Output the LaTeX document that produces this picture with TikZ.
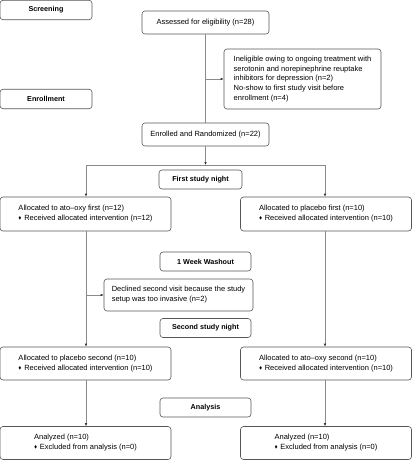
\documentclass[tikz,border=0pt]{standalone}
\usepackage{amssymb}
\usepackage{fontspec}
\setmainfont{Liberation Sans}
\usepackage{xcolor}
\usetikzlibrary{positioning}
\usetikzlibrary{arrows, arrows.meta}

\definecolor{boxline}{HTML}{555555}
\definecolor{flowline}{HTML}{8A8A8A}

\newcommand{\itemdia}{\raisebox{0.3ex}{\scalebox{0.55}{$\blacklozenge$}}\hspace{0.35em}}

\tikzset{
  box/.style={draw=boxline, line width=0.6pt, rounded corners=3pt, inner sep=0pt,
    align=left, font=\fontsize{7.5}{9.9}\selectfont},
  stagebox/.style={box, font=\fontsize{7.2}{9}\selectfont\bfseries, align=center},
  flow/.style={draw=flowline, line width=0.6pt},
  flowarrow/.style={flow, -{Latex[length=3pt,width=2.6pt,black!80]}}
}

\begin{document}
\begin{tikzpicture}[x=1pt, y=-1pt]
  \def\sidew{171}
  \def\stagew{91}
  \def\leftx{85.5}
  \def\rightx{326}
  \def\midx{205.5}

  \useasboundingbox (0,0) rectangle (412,460);

  % stage labels
  \node[stagebox, minimum width=92pt, minimum height=19.5pt] (screening) at (46,10) {Screening};
  \node[stagebox, minimum width=92pt, minimum height=19.5pt] (enrollment) at (46,99) {Enrollment};
  \node[stagebox, minimum width=83pt, minimum height=19pt] (firstnight) at (200.5,179.5) {First study night};
  \node[stagebox, minimum width=\stagew pt, minimum height=19pt] (washout) at (\midx,261.5) {1 Week Washout};
  \node[stagebox, minimum width=\stagew pt, minimum height=19pt] (secondnight) at (\midx,328) {Second study night};
  \node[stagebox, minimum width=\stagew pt, minimum height=19pt] (analysis) at (\midx,407.5) {Analysis};

  % enrollment
  \node[box, minimum width=127pt, minimum height=23pt, align=center] (assessed) at (\midx,22.5)
    {Assessed for eligibility (n=28)};
  \node[box, minimum width=157pt, minimum height=60pt] (inelig) at (302.5,79)
    {Ineligible owing to ongoing treatment with\\
     serotonin and norepinephrine reuptake\\
     inhibitors for depression (n=2)\\
     No-show to first study visit before\\
     enrollment (n=4)};
  \node[box, minimum width=127pt, minimum height=23pt, align=center] (enrolled) at (\midx,134.5)
    {Enrolled and Randomized (n=22)};

  % first night
  \node[box, minimum width=\sidew pt, minimum height=34pt] (firstL) at (\leftx,214)
    {Allocated to ato--oxy first (n=12)\\ \itemdia Received allocated intervention (n=12)};
  \node[box, minimum width=\sidew pt, minimum height=34pt] (firstR) at (\rightx,214)
    {Allocated to placebo first (n=10)\\ \itemdia Received allocated intervention (n=10)};

  \node[box, minimum width=149pt, minimum height=32pt] (declined) at (178.5,295)
    {Declined second visit because the study\\ setup was too invasive (n=2)};

  % 2nd night
  \node[box, minimum width=\sidew pt, minimum height=33pt] (secondL) at (\leftx,363.5)
    {Allocated to placebo second (n=10)\\ \itemdia Received allocated intervention (n=10)};
  \node[box, minimum width=\sidew pt, minimum height=33pt] (secondR) at (\rightx,363.5)
    {Allocated to ato--oxy second (n=10)\\ \itemdia Received allocated intervention (n=10)};

  % analysis
  \node[box, minimum width=\sidew pt, minimum height=33pt] (analyzedL) at (\leftx,443)
    {Analyzed (n=10)\\ \itemdia Excluded from analysis (n=0)};
  \node[box, minimum width=\sidew pt, minimum height=33pt] (analyzedR) at (\rightx,443)
    {Analyzed (n=10)\\ \itemdia Excluded from analysis (n=0)};

  \coordinate (inelig_in) at (\midx,79);
  \coordinate (split) at (\midx,165);
  \coordinate (splitL) at (86,165);
  \coordinate (splitR) at (325,165);
  \coordinate (declined_in) at (86,295);

  \draw[flow] (assessed.south) -- (enrolled.north);
  \draw[flowarrow] (inelig_in) -- (inelig.west);
  \draw[flowarrow] (enrolled.south) -- (split);
  \draw[flow] (splitL) -- (splitR);
  \draw[flowarrow] (splitL) -- (splitL |- firstL.north);
  \draw[flowarrow] (splitR) -- (splitR |- firstR.north);

  \draw[flowarrow] (firstL.south -| splitL) -- (secondL.north -| splitL);
  \draw[flowarrow] (declined_in) -- (declined.west);
  \draw[flowarrow] (firstR.south -| splitR) -- (secondR.north -| splitR);

  \draw[flowarrow] (secondL.south -| splitL) -- (analyzedL.north -| splitL);
  \draw[flowarrow] (secondR.south -| splitR) -- (analyzedR.north -| splitR);
\end{tikzpicture}
\end{document}
